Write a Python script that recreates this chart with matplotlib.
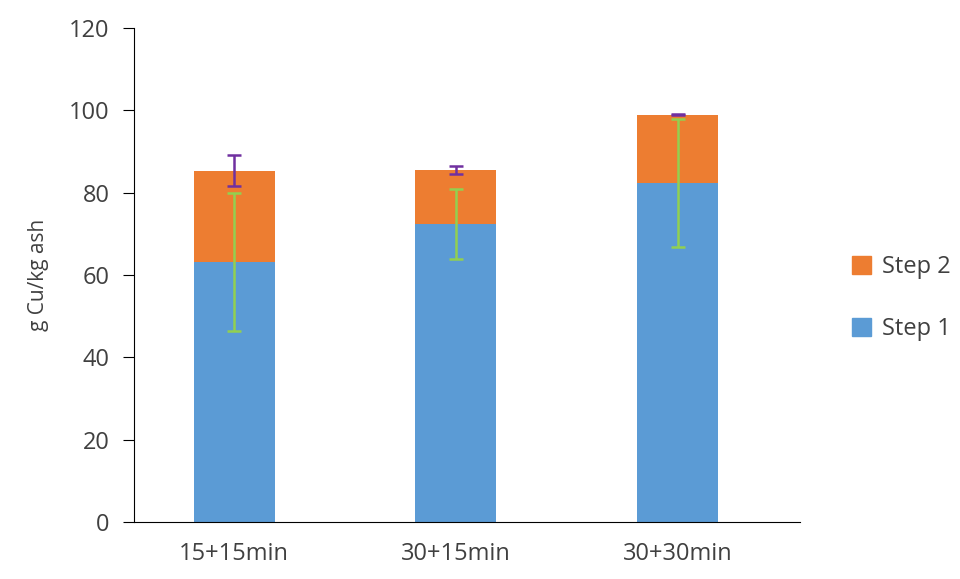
import matplotlib
matplotlib.use("Agg")
import matplotlib.pyplot as plt
from matplotlib.patches import Patch

categories = ["15+15min", "30+15min", "30+30min"]
step1 = [63.2, 72.4, 82.3]
step2 = [22.1, 13.1, 16.6]
step1_err = [16.8, 8.5, 15.5]
step2_err = [3.8, 0.9, 0.15]

plt.rcParams['font.family'] = ['Open Sans', 'DejaVu Sans']
fig = plt.figure(figsize=(9.6, 5.79), dpi=100)
ax = fig.add_axes([0.14, 0.098, 0.693, 0.854])
x = list(range(len(categories)))
w = 0.365
ax.bar(x, step1, w, color='#5b9bd5', zorder=2)
tops = [a + b for a, b in zip(step1, step2)]
ax.bar(x, step2, w, bottom=step1, color='#ed7d31', zorder=2)
ax.errorbar(x, step1, yerr=step1_err, fmt='none', ecolor='#92d050', elinewidth=1.8, capsize=5, capthick=1.8, zorder=3)
ax.errorbar(x, tops, yerr=step2_err, fmt='none', ecolor='#7030a0', elinewidth=1.8, capsize=5, capthick=1.8, zorder=3)
ax.set_xlim(-0.45, 2.55)
ax.set_ylim(0, 120)
ax.set_yticks(range(0, 121, 20))
ax.set_xticks(x)
ax.set_xticklabels(categories, fontsize=17, color='#404040')
ax.tick_params(axis='y', labelsize=17, labelcolor='#404040', direction='out', length=8, color='black', pad=10)
ax.tick_params(axis='x', length=0, pad=14)
for s in ['top', 'right']:
    ax.spines[s].set_visible(False)
ax.spines['left'].set_color('black')
ax.spines['bottom'].set_color('black')
ax.set_ylabel("g Cu/kg ash", fontsize=15, color='#404040', labelpad=14)
handles = [Patch(color='#ed7d31', label='Step 2'), Patch(color='#5b9bd5', label='Step 1')]
fig.legend(handles=handles, loc='center left', bbox_to_anchor=(0.865, 0.485), frameon=False,
           fontsize=17, handlelength=0.8, handleheight=0.8, labelspacing=1.6, handletextpad=0.5, labelcolor='#404040')
fig.savefig("out.png", dpi=100)
